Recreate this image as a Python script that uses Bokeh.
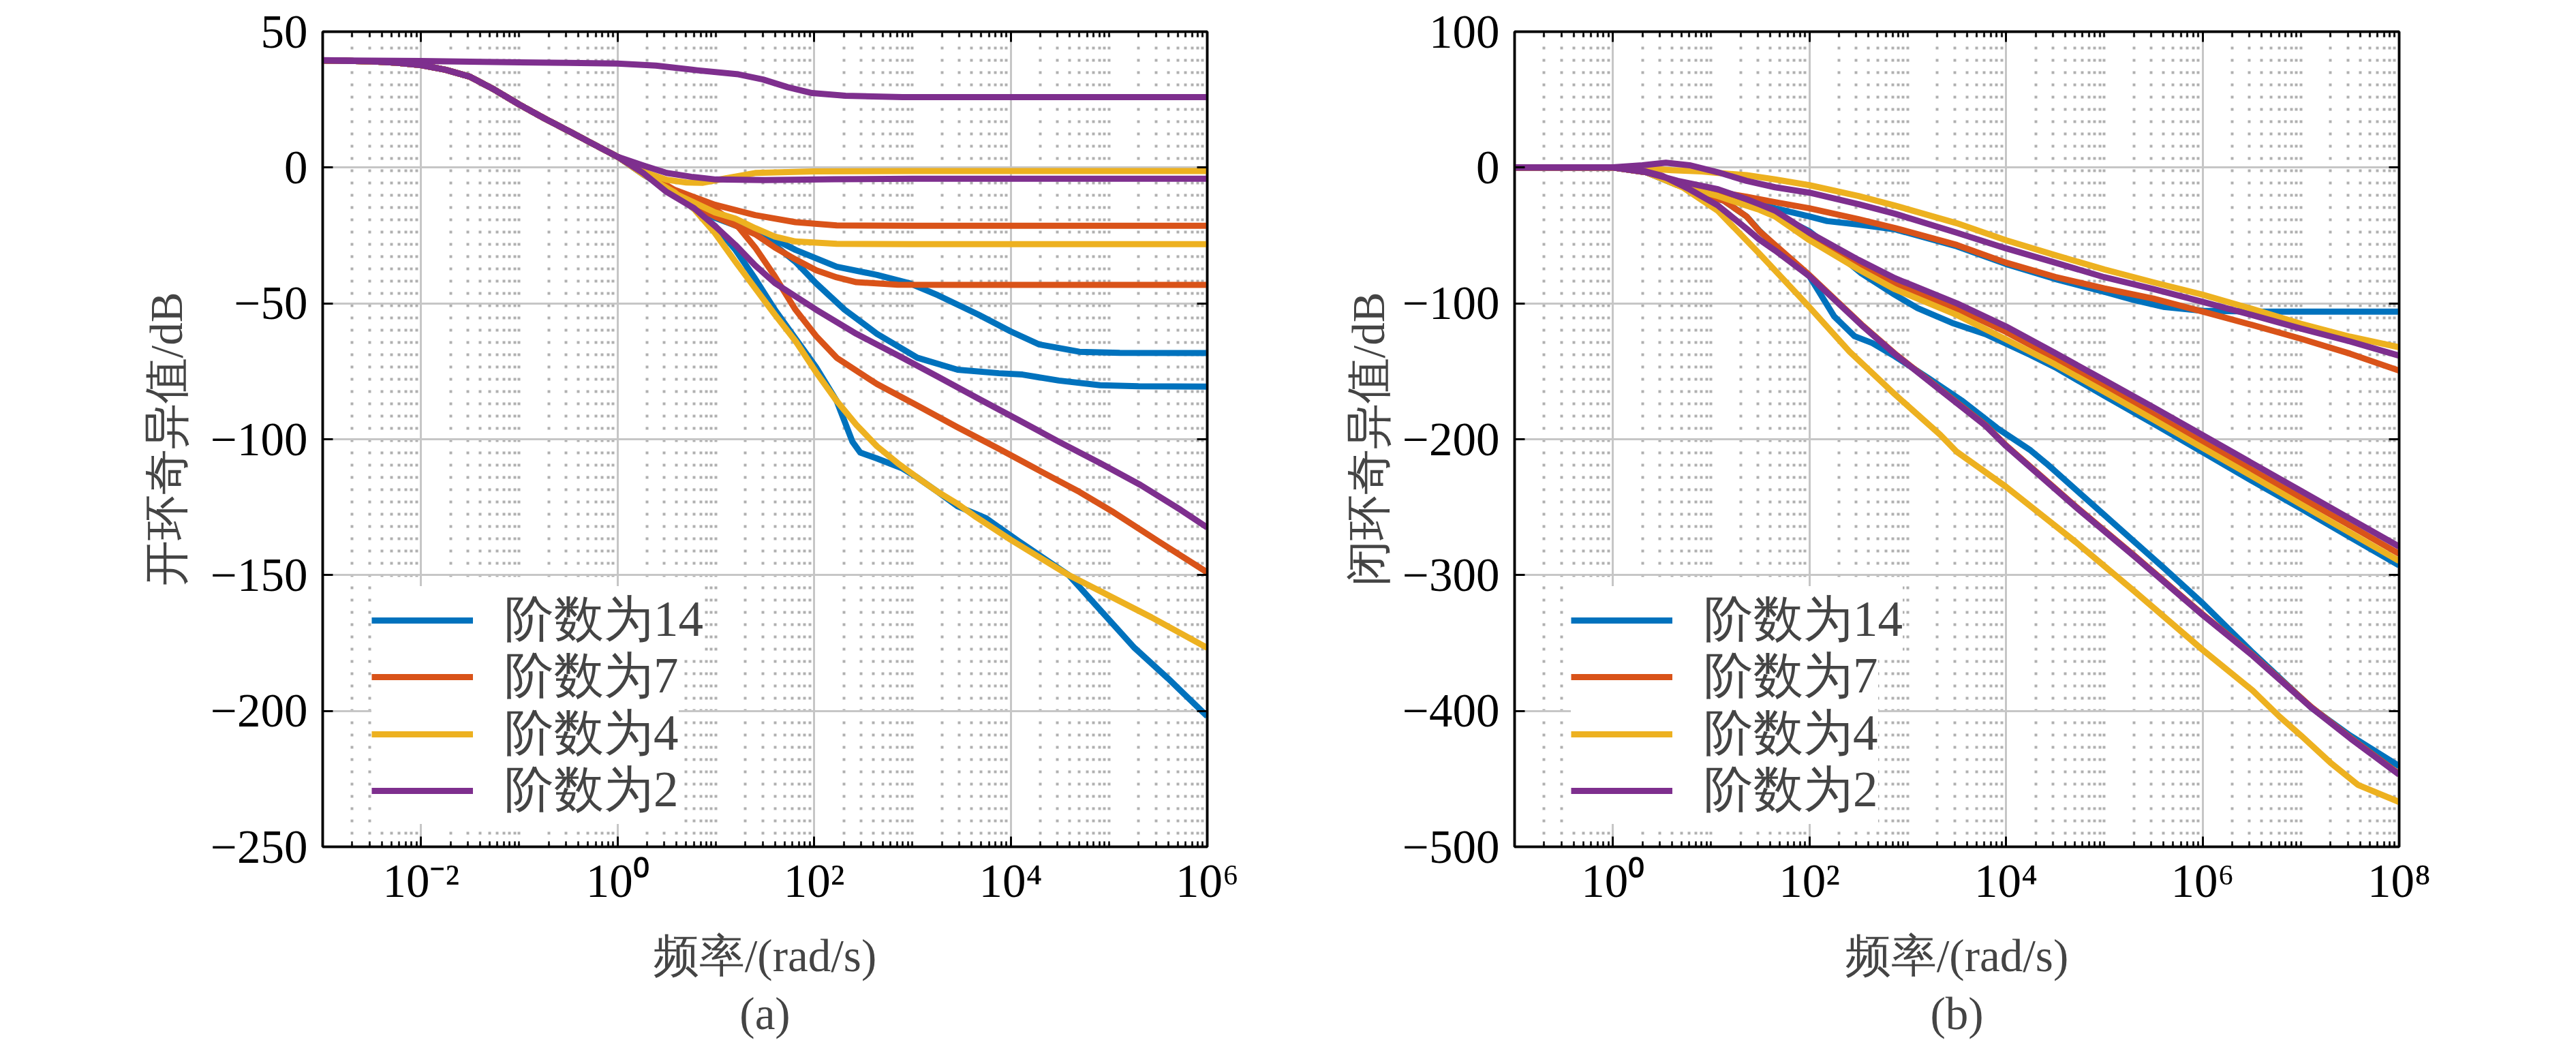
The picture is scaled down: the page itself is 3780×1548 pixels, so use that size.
import numpy as np
from bokeh.plotting import figure
from bokeh.models import (Range1d, FixedTicker, LogAxis, LinearAxis, CustomJSTickFormatter,
                          Legend, LegendItem, Title)
from bokeh.layouts import row
from bokeh.embed import file_html
from bokeh.resources import INLINE

# ---------------- colours / labels ----------------
COLORS = {"14": "#0072BD", "7": "#D95319", "4": "#EDB120", "2": "#7E2F8E"}
LEGEND_LABELS = ["阶数为14", "阶数为7", "阶数为4", "阶数为2"]
ORDERS = ["14", "7", "4", "2"]

# ---------------- panel (a): open loop singular values ----------------
A_XLABEL = "频率/(rad/s)"
A_YLABEL = "开环奇异值/dB"
A_TICK_EXP = [-2, 0, 2, 4, 6]
A_YTICKS = [-250, -200, -150, -100, -50, 0, 50]

# shared low-frequency part (log10 w, dB)
A_COMMON_LOGW = [-3, -2.5, -2.25, -2, -1.75, -1.5, -1.25, -1, -0.75, -0.5, -0.25, 0]
A_COMMON_DB = [39.4, 39.1, 38.6, 37.7, 36.0, 33.4, 28.6, 23.2, 18.2, 13.5, 8.7, 4.0]

A_B1_LOGW = [0.26, 0.58, 0.99, 1.4, 1.81, 2.23, 2.64, 2.97, 3.26, 3.67, 4.0, 4.29, 4.7, 5.11, 6.0]
A_B1_DB = [-2.0, -9.5, -17.0, -22.8, -30.3, -36.5, -39.5, -42.6, -47.0, -54.1, -60.3, -65.1, -67.8, -68.2, -68.3]
A_B2_LOGW = [0.26, 0.58, 0.99, 1.25, 1.53, 1.81, 2.02, 2.31, 2.64, 3.05, 3.46, 3.88, 4.12, 4.49, 4.91, 5.3, 6.0]
A_B2_DB = [-2.0, -10.0, -18.5, -22.0, -26.5, -34.7, -42.6, -52.3, -61.2, -70.0, -74.4, -75.7, -76.2, -78.4, -80.1, -80.5, -80.6]
A_B3_LOGW = [0.26, 0.58, 0.99, 1.2, 1.4, 1.6, 1.81, 2.02, 2.23, 2.39, 2.47, 2.64, 2.89, 3.05, 3.26, 3.46, 3.75, 4.08, 4.59, 5.26, 5.6, 6.0]
A_B3_DB = [-2.5, -9.5, -21.4, -30.3, -40.9, -52.3, -62.9, -73.5, -85.9, -100.9, -104.9, -107.1, -110.6, -114.1, -119.4, -124.7, -129.1, -137.5, -150.0, -176.8, -188.0, -202.0]

A_O1_LOGW = [0.26, 0.58, 0.99, 1.4, 1.81, 2.23, 3.0, 6.0]
A_O1_DB = [-1.5, -8.2, -13.7, -17.5, -20.1, -21.3, -21.4, -21.4]
A_O2_LOGW = [0.26, 0.58, 0.99, 1.4, 1.6, 1.81, 2.02, 2.23, 2.43, 2.85, 3.5, 6.0]
A_O2_DB = [-2.0, -10.0, -18.0, -24.5, -29.4, -33.8, -37.8, -40.4, -42.2, -43.1, -43.2, -43.2]
A_O3_LOGW = [0.26, 0.58, 0.99, 1.2, 1.4, 1.6, 1.81, 2.02, 2.23, 2.64, 3.05, 3.46, 3.88, 4.29, 4.7, 5.03, 5.5, 6.0]
A_O3_DB = [-2.0, -9.0, -15.3, -20.6, -29.4, -40.0, -52.3, -62.0, -70.0, -79.7, -87.6, -95.6, -103.5, -111.5, -119.4, -126.5, -137.5, -149.0]

A_Y1_LOGW = [0.26, 0.5, 0.7, 0.87, 1.1, 1.4, 2.0, 3.0, 6.0]
A_Y1_DB = [-1.5, -4.5, -5.5, -5.6, -4.0, -2.0, -1.4, -1.3, -1.3]
A_Y2_LOGW = [0.26, 0.58, 0.99, 1.2, 1.4, 1.6, 1.81, 2.23, 3.0, 6.0]
A_Y2_DB = [-2.0, -9.5, -16.5, -18.8, -22.3, -25.4, -27.2, -28.1, -28.2, -28.2]
A_Y3_LOGW = [0.26, 0.58, 0.78, 0.99, 1.2, 1.4, 1.6, 1.81, 2.02, 2.23, 2.43, 2.64, 2.85, 3.05, 3.26, 3.46, 3.63, 4.0, 4.59, 5.43, 6.0]
A_Y3_DB = [-2.5, -9.1, -15.3, -24.1, -34.7, -44.4, -54.1, -63.8, -75.3, -85.9, -94.7, -102.6, -108.8, -114.1, -119.4, -123.8, -128.2, -137.0, -150.0, -165.5, -176.8]

A_P1_LOGW = [-3, -2, -1, -0.5, 0, 0.39, 0.81, 1.23, 1.48, 1.73, 1.98, 2.32, 2.9, 4.0, 6.0]
A_P1_DB = [39.5, 39.2, 38.7, 38.5, 38.3, 37.5, 35.8, 34.3, 32.4, 29.6, 27.4, 26.4, 25.9, 25.9, 25.9]
A_P2_LOGW = [0.26, 0.5, 0.75, 1.0, 1.5, 2.2, 3.0, 6.0]
A_P2_DB = [0.8, -2.0, -3.4, -4.4, -4.6, -4.3, -4.1, -4.1]
A_P3_LOGW = [0.26, 0.5, 0.78, 0.99, 1.2, 1.4, 1.6, 2.02, 2.43, 2.85, 3.26, 3.67, 4.08, 4.49, 4.91, 5.32, 5.73, 6.0]
A_P3_DB = [-2.0, -9.0, -15.0, -21.5, -28.5, -36.0, -42.5, -52.3, -61.2, -69.1, -77.0, -85.0, -92.9, -100.9, -108.8, -116.8, -126.0, -132.5]

# ---------------- panel (b): closed loop singular values ----------------
B_XLABEL = "频率/(rad/s)"
B_YLABEL = "闭环奇异值/dB"
B_TICK_EXP = [0, 2, 4, 6, 8]
B_YTICKS = [-500, -400, -300, -200, -100, 0, 100]

B_B1_LOGW = [-1, 0, 0.34, 0.66, 1.07, 1.36, 1.65, 2.0, 2.18, 2.5, 2.87, 3.5, 4.0, 4.5, 5.0, 5.3, 5.6, 6.0, 6.5, 7.0, 8.0]
B_B1_DB = [0, 0, -3.5, -12, -18.5, -24, -30, -36, -39.4, -42, -45.5, -58, -71, -82, -91.5, -97.5, -102.5, -105.4, -106, -106, -106]
B_B2_LOGW = [-1, 0, 0.34, 0.66, 1.07, 1.36, 1.65, 2.0, 2.18, 2.53, 2.87, 3.1, 3.45, 3.79, 4.0, 4.25, 4.5, 5.0, 5.5, 6.0, 6.5, 7.0, 7.5, 8.0]
B_B2_DB = [0, 0, -3.5, -13, -21, -27, -34, -47, -57, -78, -93.7, -103.5, -114.3, -122.6, -129.6, -138, -147, -168, -188.5, -209.5, -230.5, -251, -272, -292.8]
B_B3_LOGW = [-1, 0, 0.34, 0.66, 0.9, 1.13, 1.36, 1.49, 1.65, 2.0, 2.25, 2.46, 2.64, 2.87, 3.22, 3.56, 3.91, 4.25, 4.41, 5.01, 5.61, 6.0, 6.51, 7.11, 7.5, 8.0]
B_B3_DB = [0, 0, -3, -12, -20, -24.4, -36, -46.5, -57.5, -80, -109.4, -124.2, -129.2, -139, -155.5, -172, -191.8, -208.2, -217.8, -256.4, -295, -320.7, -357.1, -397.8, -418, -440.6]

B_O1_LOGW = [-1, 0, 0.34, 0.66, 1.07, 1.36, 1.65, 2.0, 2.5, 2.87, 3.5, 4.0, 4.5, 5.0, 5.5, 6.0, 6.5, 7.0, 7.5, 8.0]
B_O1_DB = [0, 0, -3.5, -12, -18, -21.5, -25.5, -30, -38, -44.5, -57, -70, -80.5, -89, -96.5, -106, -115.8, -126, -137, -149.5]
B_O2_LOGW = [-1, 0, 0.34, 0.66, 1.07, 1.36, 1.49, 1.65, 2.0, 2.5, 2.87, 3.5, 4.0, 4.5, 5.0, 5.5, 6.0, 6.5, 7.0, 7.5, 8.0]
B_O2_DB = [0, 0, -3.5, -12, -19, -26, -29.5, -34, -51, -72, -85.5, -104, -121, -140.5, -161, -181.5, -202, -222.5, -243, -263.5, -284.3]
B_O3_LOGW = [-1, 0, 0.34, 0.66, 0.9, 1.13, 1.36, 1.49, 1.65, 2.0, 2.53, 2.87, 3.33, 3.79, 4.0, 4.71, 5.31, 6.0, 6.51, 7.11, 7.5, 8.0]
B_O3_DB = [0, 0, -3, -12, -20, -24.4, -36, -46.8, -57, -79.2, -115.5, -137, -163.3, -189.5, -204.5, -249.5, -285.9, -328.8, -358.8, -397.3, -419.5, -446.4]

B_Y1_LOGW = [-1, 0, 0.3, 0.6, 0.9, 1.07, 1.36, 1.65, 2.0, 2.5, 2.87, 3.5, 4.0, 4.5, 5.0, 5.5, 6.0, 6.5, 7.0, 7.5, 8.0]
B_Y1_DB = [0, 0, -0.5, -2, -2.8, -4, -5.6, -8.7, -13, -21, -28, -41, -53.5, -64.5, -75, -84.5, -93.6, -104, -115, -124.5, -132.3]
B_Y2_LOGW = [-1, 0, 0.34, 0.66, 1.07, 1.36, 1.49, 1.65, 2.0, 2.5, 2.87, 3.5, 4.0, 4.5, 5.0, 5.5, 6.0, 6.5, 7.0, 7.5, 8.0]
B_Y2_DB = [0, 0, -3.5, -13, -21, -28, -31.1, -36, -53.5, -75, -89.6, -108.5, -126.5, -145, -165, -185.5, -206.3, -227, -248, -268.8, -289.6]
B_Y3_LOGW = [-1, 0, 0.34, 0.72, 1.07, 1.49, 2.0, 2.41, 2.87, 3.33, 3.5, 4.0, 4.71, 5.31, 6.0, 6.51, 6.78, 7.0, 7.3, 7.58, 8.0]
B_Y3_DB = [0, 0, -3, -15, -32, -63.3, -102.8, -135.7, -167, -196.7, -209.3, -235, -275.7, -312.1, -355, -385, -404, -418, -438, -454.4, -467]

B_P1_LOGW = [-1, -0.5, 0, 0.3, 0.54, 0.78, 1.07, 1.36, 1.65, 2.0, 2.5, 2.87, 3.5, 4.0, 4.5, 5.0, 5.5, 6.0, 6.5, 7.0, 7.5, 8.0]
B_P1_DB = [0, 0, 0.2, 1.7, 3.6, 1.7, -3.5, -9.8, -14.5, -18.5, -27, -34, -48, -59.5, -70, -80.7, -89.5, -98.9, -108.5, -118.5, -128, -138.5]
B_P2_LOGW = [-1, 0, 0.34, 0.66, 1.07, 1.36, 1.49, 1.65, 2.0, 2.5, 2.87, 3.5, 4.0, 4.5, 5.0, 5.5, 6.0, 6.5, 7.0, 7.5, 8.0]
B_P2_DB = [0, 0, -3.5, -9.8, -16, -23.3, -27, -31.7, -48, -68, -81.5, -100, -117, -136.5, -156.5, -176.5, -197, -217.5, -238, -258.5, -279]
B_P3_LOGW = [-1, 0, 0.34, 0.5, 0.78, 1.07, 1.36, 1.49, 1.65, 2.0, 2.53, 2.87, 3.33, 3.79, 4.0, 4.71, 5.31, 6.0, 6.51, 7.11, 7.5, 8.0]
B_P3_DB = [0, 0, -3, -6, -16, -28, -45, -53, -61, -80, -116, -137.4, -163.8, -190, -205, -250, -286.4, -329.3, -359.3, -397.8, -420, -446.9]

SERIF = "Liberation Serif"
TICK_FS = "69px"
LABEL_FS = "67px"
LEGEND_FS_PX = 73
LW = 9


def join(a, b):
    return list(a) + list(b)


A_SERIES = {
    "14": [(join(A_COMMON_LOGW, A_B1_LOGW), join(A_COMMON_DB, A_B1_DB)),
           (join(A_COMMON_LOGW, A_B2_LOGW), join(A_COMMON_DB, A_B2_DB)),
           (join(A_COMMON_LOGW, A_B3_LOGW), join(A_COMMON_DB, A_B3_DB))],
    "7": [(join(A_COMMON_LOGW, A_O1_LOGW), join(A_COMMON_DB, A_O1_DB)),
          (join(A_COMMON_LOGW, A_O2_LOGW), join(A_COMMON_DB, A_O2_DB)),
          (join(A_COMMON_LOGW, A_O3_LOGW), join(A_COMMON_DB, A_O3_DB))],
    "4": [(join(A_COMMON_LOGW, A_Y1_LOGW), join(A_COMMON_DB, A_Y1_DB)),
          (join(A_COMMON_LOGW, A_Y2_LOGW), join(A_COMMON_DB, A_Y2_DB)),
          (join(A_COMMON_LOGW, A_Y3_LOGW), join(A_COMMON_DB, A_Y3_DB))],
    "2": [(A_P1_LOGW, A_P1_DB),
          (join(A_COMMON_LOGW, A_P2_LOGW), join(A_COMMON_DB, A_P2_DB)),
          (join(A_COMMON_LOGW, A_P3_LOGW), join(A_COMMON_DB, A_P3_DB))],
}
B_SERIES = {
    "14": [(B_B1_LOGW, B_B1_DB), (B_B2_LOGW, B_B2_DB), (B_B3_LOGW, B_B3_DB)],
    "7": [(B_O1_LOGW, B_O1_DB), (B_O2_LOGW, B_O2_DB), (B_O3_LOGW, B_O3_DB)],
    "4": [(B_Y1_LOGW, B_Y1_DB), (B_Y2_LOGW, B_Y2_DB), (B_Y3_LOGW, B_Y3_DB)],
    "2": [(B_P1_LOGW, B_P1_DB), (B_P2_LOGW, B_P2_DB), (B_P3_LOGW, B_P3_DB)],
}

SUP_JS = """
const e = Math.round(Math.log10(tick));
const m = {'-':'\u207B','0':'\u2070','1':'\u00B9','2':'\u00B2','3':'\u00B3','4':'\u2074','5':'\u2075','6':'\u2076','7':'\u2077','8':'\u2078','9':'\u2079'};
return '10' + String(e).split('').map(c => m[c]).join('');
"""
MINUS_JS = "return tick < 0 ? '\u2212' + Math.abs(tick) : String(tick);"
BLANK_JS = "return '';"


def style_axis(ax, labels=True):
    ax.axis_line_color = "black"
    ax.axis_line_width = 3.5
    ax.major_tick_in = 15
    ax.major_tick_out = 0
    ax.minor_tick_in = 8
    ax.minor_tick_out = 0
    ax.major_tick_line_color = "black"
    ax.minor_tick_line_color = "black"
    ax.major_tick_line_width = 3
    ax.minor_tick_line_width = 2.5
    ax.major_label_text_font = SERIF
    if labels:
        ax.major_label_text_font_size = TICK_FS
        ax.major_label_text_color = "black"
    else:
        ax.major_label_text_font_size = "1px"
        ax.major_label_standoff = 0


FRAME_H = 1196
ROW_CENTERS_FROM_BOTTOM = [333, 250, 166, 83]   # legend row centres above the frame bottom (px)


def make_panel(xr_exp, tick_exp, yticks, xlabel, ylabel, tag, series, border_left, border_right,
               ylabel_standoff, legend_x):
    lo, hi = xr_exp
    p = figure(x_axis_type="log",
               x_range=Range1d(10.0 ** lo, 10.0 ** hi),
               y_range=Range1d(yticks[0], yticks[-1]),
               frame_width=1298, frame_height=FRAME_H,
               min_border_left=border_left, min_border_right=border_right,
               min_border_top=46, min_border_bottom=290,
               output_backend="svg", toolbar_location=None)
    p.background_fill_color = "white"
    p.border_fill_color = "white"
    p.outline_line_color = "black"
    p.outline_line_width = 3.5

    majors = [10.0 ** k for k in tick_exp]
    minors = []
    for k in range(lo, hi):
        for m in range(1, 10):
            if m == 1 and k in tick_exp:
                continue
            minors.append(m * 10.0 ** k)
    xticker = FixedTicker(ticks=majors, minor_ticks=minors)
    yticker = FixedTicker(ticks=yticks, minor_ticks=[])

    xax = p.xaxis[0]
    xax.ticker = xticker
    xax.formatter = CustomJSTickFormatter(code=SUP_JS)
    style_axis(xax)
    xax.major_label_standoff = 12
    xax.axis_label = xlabel
    xax.axis_label_text_font = SERIF
    xax.axis_label_text_font_size = LABEL_FS
    xax.axis_label_text_font_style = "normal"
    xax.axis_label_standoff = 31

    yax = p.yaxis[0]
    yax.ticker = yticker
    yax.formatter = CustomJSTickFormatter(code=MINUS_JS)
    style_axis(yax)
    yax.major_label_standoff = 22
    yax.axis_label = ylabel
    yax.axis_label_text_font = SERIF
    yax.axis_label_text_font_size = LABEL_FS
    yax.axis_label_text_font_style = "normal"
    yax.axis_label_standoff = ylabel_standoff

    top = LogAxis(ticker=xticker, formatter=CustomJSTickFormatter(code=BLANK_JS))
    style_axis(top, labels=False)
    p.add_layout(top, "above")
    right = LinearAxis(ticker=yticker, formatter=CustomJSTickFormatter(code=BLANK_JS))
    style_axis(right, labels=False)
    p.add_layout(right, "right")

    p.xgrid.grid_line_color = "#c6c6c6"
    p.xgrid.grid_line_width = 3
    p.xgrid.minor_grid_line_color = "#b0b0b0"
    p.xgrid.minor_grid_line_width = 4
    p.xgrid.minor_grid_line_dash = "4 14"
    p.ygrid.grid_line_color = "#c6c6c6"
    p.ygrid.grid_line_width = 3
    p.ygrid.minor_grid_line_color = None

    firsts = []
    for order in ORDERS:
        first = None
        for lw, db in series[order]:
            r = p.line(10.0 ** np.array(lw, dtype=float), db, line_color=COLORS[order],
                       line_width=LW, line_join="round")
            if first is None:
                first = r
        firsts.append(first)

    # one legend box per row so that the row pitch matches the original
    item_h = 1.37 * LEGEND_FS_PX
    for label, r, centre in zip(LEGEND_LABELS, firsts, ROW_CENTERS_FROM_BOTTOM):
        lg = Legend(items=[LegendItem(label=label, renderers=[r])],
                    location=(legend_x, int(round(centre - item_h / 2))),
                    background_fill_color="white", background_fill_alpha=1.0,
                    border_line_color=None,
                    label_text_font=SERIF, label_text_font_size=f"{LEGEND_FS_PX}px",
                    glyph_width=149, glyph_height=60, label_height=60,
                    label_standoff=46, spacing=0, padding=0, margin=0)
        p.add_layout(lg)

    t = Title(text=tag, align="center", text_font=SERIF, text_font_size=LABEL_FS,
              text_font_style="normal", standoff=13)
    p.add_layout(t, "below")
    return p


pa = make_panel((-3, 6), A_TICK_EXP, A_YTICKS, A_XLABEL, A_YLABEL, "(a)", A_SERIES,
                473, 90, 25, 72)
pb = make_panel((-1, 8), B_TICK_EXP, B_YTICKS, B_XLABEL, B_YLABEL, "(b)", B_SERIES,
                361, 238, 10, 83)

layout = row(pa, pb)
open("out.html", "w", encoding="utf-8").write(file_html(layout, INLINE))
